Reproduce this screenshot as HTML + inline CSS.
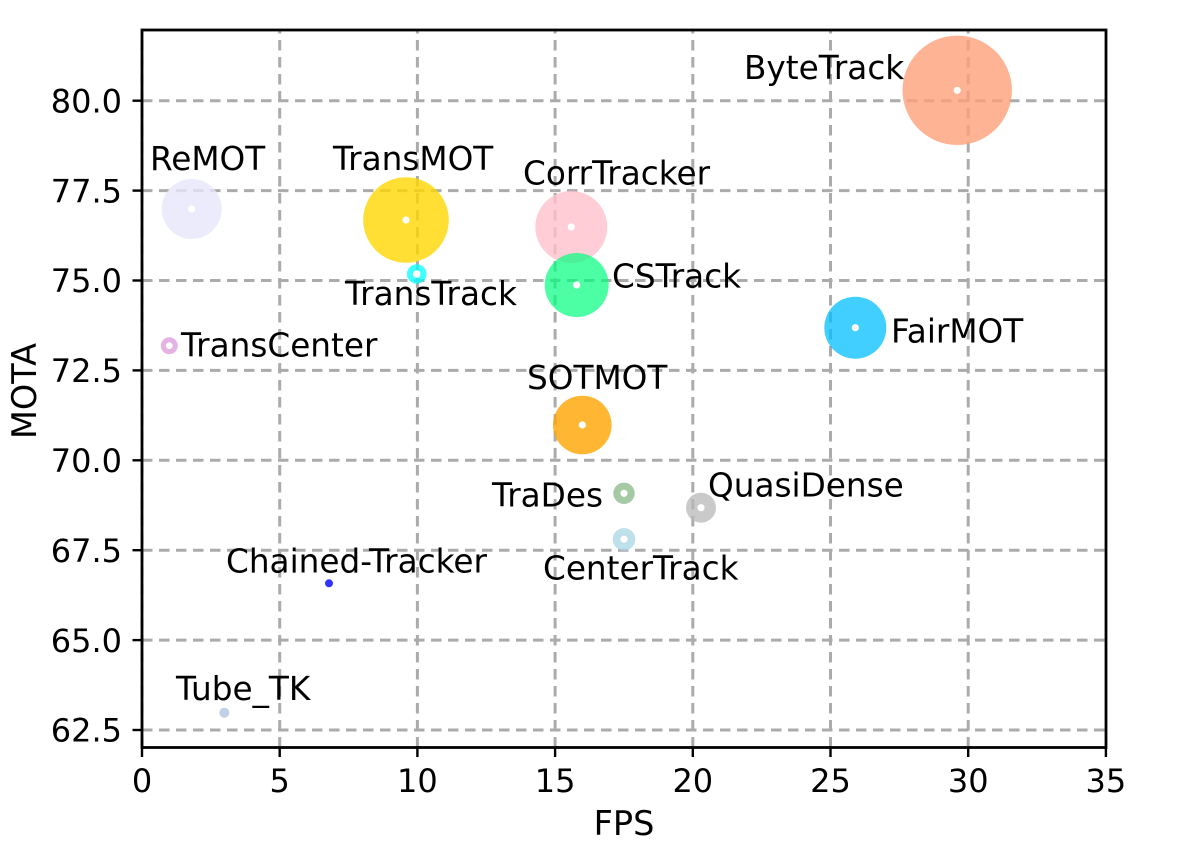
<!DOCTYPE html>
<html>
<head>
<meta charset="utf-8">
<style>
  html, body { margin: 0; padding: 0; background: #ffffff; }
  svg { display: block; }
  text { font-family: "DejaVu Sans", "Liberation Sans", sans-serif; fill: #000; }
</style>
</head>
<body>
<svg width="1200" height="860" viewBox="0 0 1200 860" xmlns="http://www.w3.org/2000/svg">
  <rect x="0" y="0" width="1200" height="860" fill="#ffffff"/>

  <!-- grid -->
  <g stroke="#ababab" stroke-width="3" stroke-dasharray="10.5 6.5" fill="none">
    <line x1="142" y1="747.5" x2="142" y2="30"/>
    <line x1="279.7" y1="747.5" x2="279.7" y2="30"/>
    <line x1="417.4" y1="747.5" x2="417.4" y2="30"/>
    <line x1="555.1" y1="747.5" x2="555.1" y2="30"/>
    <line x1="692.8" y1="747.5" x2="692.8" y2="30"/>
    <line x1="830.5" y1="747.5" x2="830.5" y2="30"/>
    <line x1="968.2" y1="747.5" x2="968.2" y2="30"/>
    <line x1="142" y1="100.7" x2="1106" y2="100.7"/>
    <line x1="142" y1="190.6" x2="1106" y2="190.6"/>
    <line x1="142" y1="280.5" x2="1106" y2="280.5"/>
    <line x1="142" y1="370.4" x2="1106" y2="370.4"/>
    <line x1="142" y1="460.3" x2="1106" y2="460.3"/>
    <line x1="142" y1="550.2" x2="1106" y2="550.2"/>
    <line x1="142" y1="640.1" x2="1106" y2="640.1"/>
    <line x1="142" y1="730.0" x2="1106" y2="730.0"/>
  </g>

  <!-- bubbles -->
  <g>
    <circle cx="957.2" cy="90.3" r="54.7" fill="#FFA07A" fill-opacity="0.8"/>
    <circle cx="191.7" cy="209" r="30" fill="#E6E6FA" fill-opacity="0.8"/>
    <circle cx="406" cy="220" r="42.8" fill="#FFD700" fill-opacity="0.8"/>
    <circle cx="416.7" cy="274" r="9.8" fill="#00FFFF" fill-opacity="0.75"/>
    <circle cx="169.3" cy="345.7" r="8.5" fill="#DDA0DD" fill-opacity="0.8"/>
    <circle cx="571.3" cy="227" r="36" fill="#FFC0CB" fill-opacity="0.8"/>
    <circle cx="576.7" cy="285" r="32" fill="#00FF7F" fill-opacity="0.7"/>
    <circle cx="582.3" cy="425" r="29.3" fill="#FFA500" fill-opacity="0.8"/>
    <circle cx="855.3" cy="327.7" r="31" fill="#00BFFF" fill-opacity="0.75"/>
    <circle cx="624" cy="493.3" r="10.7" fill="#8FBC8F" fill-opacity="0.8"/>
    <circle cx="624" cy="539.3" r="11.3" fill="#ADD8E6" fill-opacity="0.8"/>
    <circle cx="701" cy="507.7" r="15" fill="#B8B8B8" fill-opacity="0.75"/>
    <circle cx="329" cy="583.3" r="4" fill="#0000FF" fill-opacity="0.8"/>
    <circle cx="224.3" cy="712.7" r="5" fill="#B0C4DE" fill-opacity="0.8"/>
  </g>

  <!-- white center dots -->
  <g fill="#ffffff">
    <circle cx="957.2" cy="90.3" r="3.6"/>
    <circle cx="191.7" cy="209" r="3.6"/>
    <circle cx="406" cy="220" r="3.6"/>
    <circle cx="416.7" cy="274" r="3.8"/>
    <circle cx="169.3" cy="345.7" r="3.4"/>
    <circle cx="571.3" cy="227" r="3.6"/>
    <circle cx="576.7" cy="285" r="3.6"/>
    <circle cx="582.3" cy="425" r="3.6"/>
    <circle cx="855.3" cy="327.7" r="3.6"/>
    <circle cx="624" cy="493.3" r="3.6"/>
    <circle cx="624" cy="539.3" r="3.6"/>
    <circle cx="701" cy="507.7" r="3.6"/>
  </g>

  <!-- annotations -->
  <g font-size="32.7">
    <text x="744" y="79">ByteTrack</text>
    <text x="150" y="170">ReMOT</text>
    <text x="333" y="170">TransMOT</text>
    <text x="345" y="305">TransTrack</text>
    <text x="181" y="356.7">TransCenter</text>
    <text x="523" y="184.3">CorrTracker</text>
    <text x="612" y="287.7">CSTrack</text>
    <text x="527" y="389">SOTMOT</text>
    <text x="603" y="506.7" text-anchor="end">TraDes</text>
    <text x="543" y="579.3">CenterTrack</text>
    <text x="708" y="496.7">QuasiDense</text>
    <text x="891" y="342.3">FairMOT</text>
    <text x="226" y="572.7">Chained-Tracker</text>
    <text x="176" y="700">Tube_TK</text>
  </g>

  <!-- spines -->
  <rect x="142" y="30" width="964" height="717.5" fill="none" stroke="#000" stroke-width="2.8"/>

  <!-- ticks -->
  <g stroke="#000" stroke-width="2.4">
    <line x1="132.5" y1="100.7" x2="142" y2="100.7"/>
    <line x1="132.5" y1="190.6" x2="142" y2="190.6"/>
    <line x1="132.5" y1="280.5" x2="142" y2="280.5"/>
    <line x1="132.5" y1="370.4" x2="142" y2="370.4"/>
    <line x1="132.5" y1="460.3" x2="142" y2="460.3"/>
    <line x1="132.5" y1="550.2" x2="142" y2="550.2"/>
    <line x1="132.5" y1="640.1" x2="142" y2="640.1"/>
    <line x1="132.5" y1="730.0" x2="142" y2="730.0"/>
    <line x1="142" y1="747.5" x2="142" y2="757"/>
    <line x1="279.7" y1="747.5" x2="279.7" y2="757"/>
    <line x1="417.4" y1="747.5" x2="417.4" y2="757"/>
    <line x1="555.1" y1="747.5" x2="555.1" y2="757"/>
    <line x1="692.8" y1="747.5" x2="692.8" y2="757"/>
    <line x1="830.5" y1="747.5" x2="830.5" y2="757"/>
    <line x1="968.2" y1="747.5" x2="968.2" y2="757"/>
    <line x1="1105.9" y1="747.5" x2="1105.9" y2="757"/>
  </g>

  <!-- y tick labels -->
  <g font-size="32" text-anchor="end">
    <text x="122" y="112.4">80.0</text>
    <text x="122" y="202.3">77.5</text>
    <text x="122" y="292.2">75.0</text>
    <text x="122" y="382.1">72.5</text>
    <text x="122" y="472.0">70.0</text>
    <text x="122" y="561.9">67.5</text>
    <text x="122" y="651.8">65.0</text>
    <text x="122" y="741.7">62.5</text>
  </g>

  <!-- x tick labels -->
  <g font-size="32" text-anchor="middle">
    <text x="142" y="792">0</text>
    <text x="279.7" y="792">5</text>
    <text x="417.4" y="792">10</text>
    <text x="555.1" y="792">15</text>
    <text x="692.8" y="792">20</text>
    <text x="830.5" y="792">25</text>
    <text x="968.2" y="792">30</text>
    <text x="1105.9" y="792">35</text>
  </g>

  <!-- axis labels -->
  <text x="624" y="835" font-size="33.5" text-anchor="middle">FPS</text>
  <text x="0" y="0" font-size="33.5" text-anchor="middle" transform="translate(36,391) rotate(-90)">MOTA</text>
</svg>
</body>
</html>
